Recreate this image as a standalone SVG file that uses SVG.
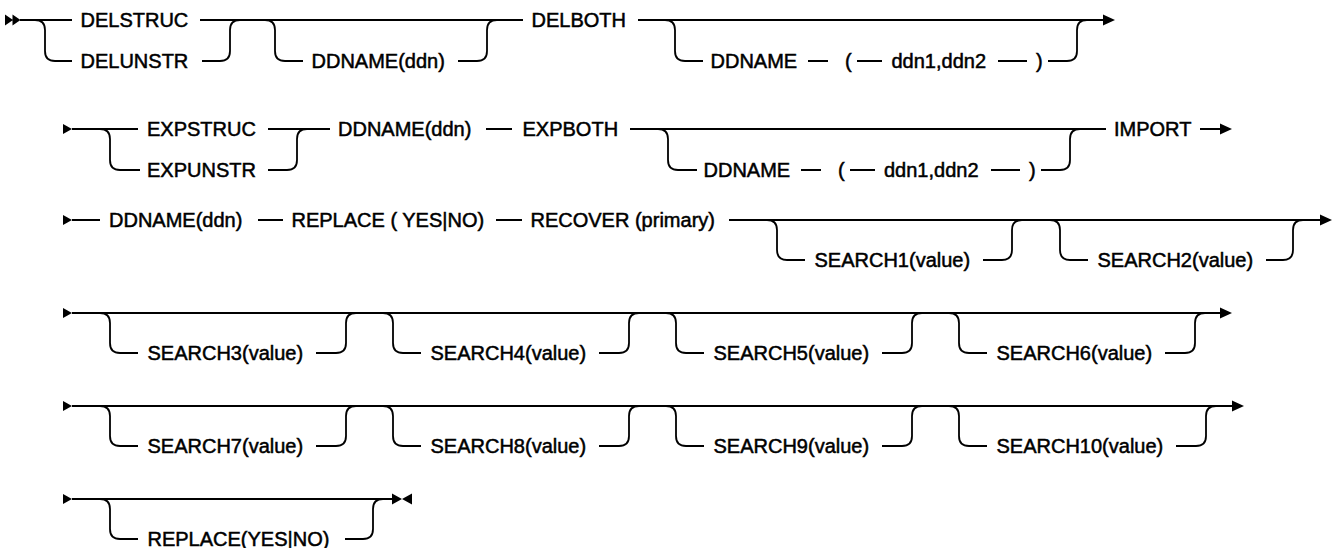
<svg xmlns="http://www.w3.org/2000/svg" width="1339" height="548" viewBox="0 0 1339 548">
  <style>
    .t { font-family: "Liberation Sans", Arial, Helvetica, sans-serif; font-size: 20px; fill: #000; stroke: #000; stroke-width: 0.5; }
    .ln { fill: none; stroke: #000; stroke-width: 1.8; }
    .hd { fill: #000; stroke: none; }
  </style>
  <defs>
    <path id="endArrow" class="hd" d="M-12,-5.5 L0,0 L-12,5.5 Z"/>
    <path id="startArrow" class="hd" d="M0,-5 L9,0 L0,5 Z"/>
  </defs>

  <rect width="1339" height="548" fill="#fff"/>

  <!-- track lines -->
  <g id="connectors">
    <!-- line 1 -->
    <path class="ln" d="M20,20 H72 M200,20 H523 M638,20 H1104"/>
    <path class="ln" d="M35,20 Q45,20 45,30 V51 Q45,61 55,61 H72 M202,61 H220 Q230,61 230,51 V30 Q230,20 240,20"/>
    <path class="ln" d="M265,20 Q275,20 275,30 V51 Q275,61 285,61 H303 M458,61 H477 Q487,61 487,51 V30 Q487,20 497,20"/>
    <path class="ln" d="M665,20 Q675,20 675,30 V51 Q675,61 685,61 H703 M808,61 H828 M857,61 H882 M998,61 H1027 M1048,61 H1067 Q1077,61 1077,51 V30 Q1077,20 1087,20"/>
    <!-- line 2 -->
    <path class="ln" d="M72,129 H138 M268,129 H330 M486,129 H512 M630,129 H1106 M1200,129 H1222"/>
    <path class="ln" d="M100,129 Q110,129 110,139 V160 Q110,170 120,170 H140 M268,170 H287 Q297,170 297,160 V139 Q297,129 307,129"/>
    <path class="ln" d="M658,129 Q668,129 668,139 V160 Q668,170 678,170 H697 M801,170 H821 M850,170 H875 M991,170 H1020 M1041,170 H1060 Q1070,170 1070,160 V139 Q1070,129 1080,129"/>
    <!-- line 3 -->
    <path class="ln" d="M72,220 H100 M258,220 H283 M496,220 H522 M729,220 H1321"/>
    <path class="ln" d="M767,220 Q777,220 777,230 V250 Q777,260 787,260 H805 M983,260 H1002 Q1012,260 1012,250 V230 Q1012,220 1022,220"/>
    <path class="ln" d="M1050,220 Q1060,220 1060,230 V250 Q1060,260 1070,260 H1088 M1266,260 H1283 Q1293,260 1293,250 V230 Q1293,220 1303,220"/>
    <!-- line 4 -->
    <path class="ln" d="M72,313 H1221"/>
    <path class="ln" d="M100,313 Q110,313 110,323 V343 Q110,353 120,353 H138 M316,353 H336 Q346,353 346,343 V323 Q346,313 356,313"/>
    <path class="ln" d="M383,313 Q393,313 393,323 V343 Q393,353 403,353 H421 M599,353 H619 Q629,353 629,343 V323 Q629,313 639,313"/>
    <path class="ln" d="M666,313 Q676,313 676,323 V343 Q676,353 686,353 H704 M882,353 H902 Q912,353 912,343 V323 Q912,313 922,313"/>
    <path class="ln" d="M949,313 Q959,313 959,323 V343 Q959,353 969,353 H987 M1165,353 H1185 Q1195,353 1195,343 V323 Q1195,313 1205,313"/>
    <!-- line 5 -->
    <path class="ln" d="M72,406 H1233"/>
    <path class="ln" d="M100,406 Q110,406 110,416 V436 Q110,446 120,446 H138 M316,446 H336 Q346,446 346,436 V416 Q346,406 356,406"/>
    <path class="ln" d="M383,406 Q393,406 393,416 V436 Q393,446 403,446 H421 M599,446 H619 Q629,446 629,436 V416 Q629,406 639,406"/>
    <path class="ln" d="M666,406 Q676,406 676,416 V436 Q676,446 686,446 H704 M882,446 H902 Q912,446 912,436 V416 Q912,406 922,406"/>
    <path class="ln" d="M949,406 Q959,406 959,416 V436 Q959,446 969,446 H987 M1176,446 H1196 Q1206,446 1206,436 V416 Q1206,406 1216,406"/>
    <!-- line 6 -->
    <path class="ln" d="M72,499 H392"/>
    <path class="ln" d="M100,499 Q110,499 110,509 V529 Q110,539 120,539 H138 M345,539 H363 Q373,539 373,529 V509 Q373,499 383,499"/>

    <!-- start and end marks -->
    <path class="hd" d="M5,14.5 L13,20 L5,25.5 Z M12.5,14.5 L20.5,20 L12.5,25.5 Z"/>
    <use href="#endArrow" x="1115" y="20"/>
    <use href="#startArrow" x="63" y="129"/>
    <use href="#endArrow" x="1232" y="129"/>
    <use href="#startArrow" x="63" y="220"/>
    <use href="#endArrow" x="1332" y="220"/>
    <use href="#startArrow" x="63" y="313"/>
    <use href="#endArrow" x="1232" y="313"/>
    <use href="#startArrow" x="63" y="406"/>
    <use href="#endArrow" x="1244" y="406"/>
    <use href="#startArrow" x="63" y="499"/>
    <path class="hd" d="M392,493.5 L402,499 L392,504.5 Z M412,493.5 L402,499 L412,504.5 Z"/>
  </g>

  <!-- line 1 keywords -->
  <g id="delstruc"><text class="t" x="80.5" y="27">DELSTRUC</text></g>
  <g id="delunstr"><text class="t" x="80.5" y="68">DELUNSTR</text></g>
  <g id="ddname-del"><text class="t" x="311.5" y="68">DDNAME(ddn)</text></g>
  <g id="delboth"><text class="t" x="531.5" y="27">DELBOTH</text></g>
  <g id="ddname-pair-del">
    <text class="t" x="710.5" y="68">DDNAME</text>
    <text class="t" x="845" y="68">(</text>
    <text class="t" x="891.5" y="68">ddn1,ddn2</text>
    <text class="t" x="1036" y="68">)</text>
  </g>

  <!-- line 2 keywords -->
  <g id="expstruc"><text class="t" x="147" y="136">EXPSTRUC</text></g>
  <g id="expunstr"><text class="t" x="147" y="177">EXPUNSTR</text></g>
  <g id="ddname-exp"><text class="t" x="338" y="136">DDNAME(ddn)</text></g>
  <g id="expboth"><text class="t" x="522.5" y="136">EXPBOTH</text></g>
  <g id="ddname-pair-exp">
    <text class="t" x="703.5" y="177">DDNAME</text>
    <text class="t" x="838" y="177">(</text>
    <text class="t" x="884" y="177">ddn1,ddn2</text>
    <text class="t" x="1029" y="177">)</text>
  </g>
  <g id="import"><text class="t" x="1114" y="136">IMPORT</text></g>

  <!-- line 3 keywords -->
  <g id="ddname-imp"><text class="t" x="109" y="227">DDNAME(ddn)</text></g>
  <g id="replace-yn"><text class="t" x="291.5" y="227">REPLACE ( YES|NO)</text></g>
  <g id="recover"><text class="t" x="530.5" y="227">RECOVER (primary)</text></g>
  <g id="search1"><text class="t" x="814.5" y="267">SEARCH1(value)</text></g>
  <g id="search2"><text class="t" x="1097.5" y="267">SEARCH2(value)</text></g>

  <!-- line 4 keywords -->
  <g id="search3"><text class="t" x="147.5" y="360">SEARCH3(value)</text></g>
  <g id="search4"><text class="t" x="430.5" y="360">SEARCH4(value)</text></g>
  <g id="search5"><text class="t" x="713.5" y="360">SEARCH5(value)</text></g>
  <g id="search6"><text class="t" x="996.5" y="360">SEARCH6(value)</text></g>

  <!-- line 5 keywords -->
  <g id="search7"><text class="t" x="147.5" y="453">SEARCH7(value)</text></g>
  <g id="search8"><text class="t" x="430.5" y="453">SEARCH8(value)</text></g>
  <g id="search9"><text class="t" x="713.5" y="453">SEARCH9(value)</text></g>
  <g id="search10"><text class="t" x="996.5" y="453">SEARCH10(value)</text></g>

  <!-- line 6 keyword -->
  <g id="replace-final"><text class="t" x="147.5" y="546">REPLACE(YES|NO)</text></g>
</svg>
